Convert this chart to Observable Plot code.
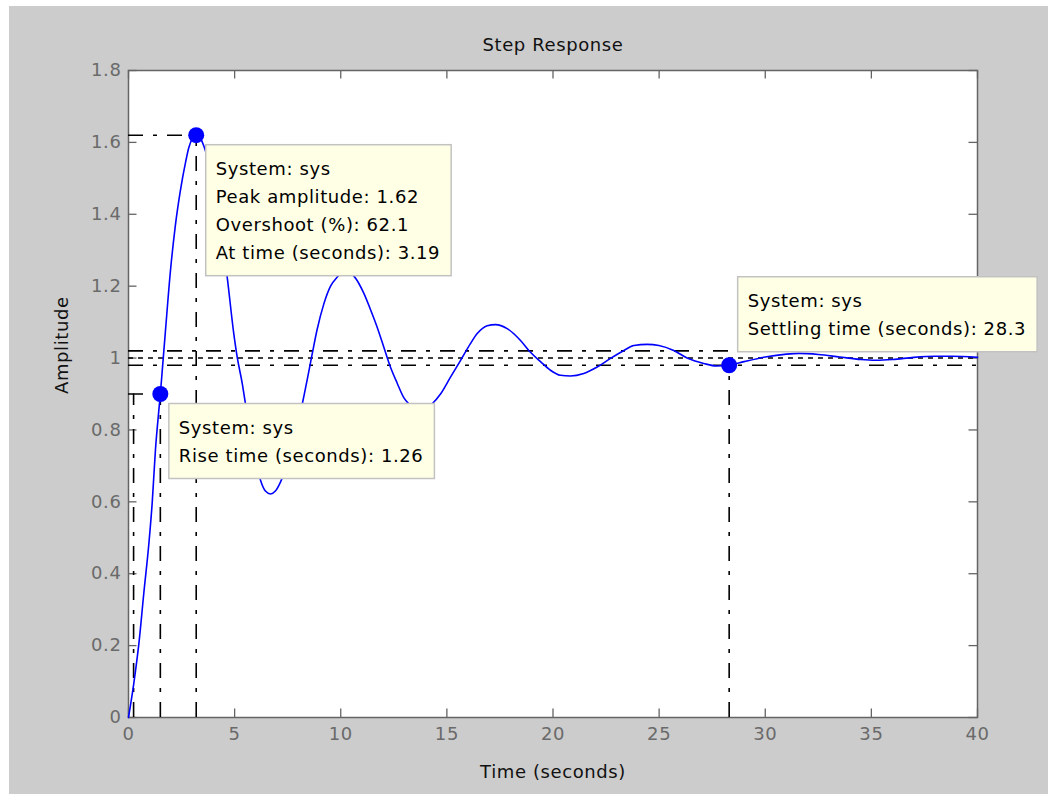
<!DOCTYPE html>
<html>
<head>
<meta charset="utf-8">
<script src="https://cdn.jsdelivr.net/npm/d3@7"></script>
<script src="https://cdn.jsdelivr.net/npm/@observablehq/plot@0.6"></script>
<style>
html, body { margin: 0; padding: 0; background: #ffffff; }
#fig { position: absolute; left: 9px; top: 6px; width: 1039px; height: 788px; background: #cccccc; overflow: hidden; }
</style>
</head>
<body>
<div id="fig"></div>
<script>
// ---- data ----
const time = [0, 0.25, 0.49, 0.72, 0.96, 1.12, 1.27, 1.43, 1.5, 1.59, 1.74, 1.98, 2.21, 2.45, 2.69, 2.84, 3.0, 3.19, 3.4, 3.55, 3.8, 4.1, 4.4, 4.65, 4.96, 5.12, 5.36, 5.51, 5.85, 6.22, 6.45, 6.69, 6.92, 7.16, 7.5, 7.85, 8.18, 8.42, 8.65, 8.89, 9.2, 9.52, 9.83, 10.05, 10.25, 10.45, 10.62, 11.09, 11.4, 11.72, 12.03, 12.34, 12.66, 12.97, 13.2, 13.5, 13.75, 14.0, 14.31, 14.7, 15.17, 15.64, 16.11, 16.43, 16.9, 17.29, 17.84, 18.47, 18.94, 19.41, 19.88, 20.35, 20.82, 21.45, 22.08, 22.71, 23.34, 23.81, 24.44, 24.99, 25.69, 26.32, 27.1, 27.7, 28.3, 29.0, 30.0, 31.0, 31.6, 32.5, 33.5, 34.5, 35.2, 36.0, 37.0, 38.0, 38.8, 40.0];
const amplitude = [0, 0.095, 0.206, 0.345, 0.484, 0.60, 0.745, 0.855, 0.90, 0.965, 1.075, 1.245, 1.37, 1.468, 1.545, 1.585, 1.61, 1.62, 1.61, 1.59, 1.54, 1.45, 1.335, 1.225, 1.068, 1.003, 0.929, 0.873, 0.76, 0.66, 0.63, 0.622, 0.63, 0.655, 0.71, 0.785, 0.87, 0.94, 1.01, 1.08, 1.15, 1.20, 1.225, 1.237, 1.24, 1.237, 1.228, 1.18, 1.135, 1.085, 1.03, 0.975, 0.93, 0.89, 0.873, 0.858, 0.853, 0.858, 0.873, 0.90, 0.947, 0.993, 1.04, 1.068, 1.09, 1.093, 1.082, 1.049, 1.016, 0.99, 0.966, 0.952, 0.95, 0.957, 0.975, 0.999, 1.021, 1.035, 1.038, 1.035, 1.021, 1.0, 0.985, 0.978, 0.98, 0.99, 1.003, 1.011, 1.013, 1.01, 1.003, 0.996, 0.994, 0.996, 1.002, 1.005, 1.005, 1.002];

const xTicks = [0, 5, 10, 15, 20, 25, 30, 35, 40];
const yTicks = [0, 0.2, 0.4, 0.6, 0.8, 1, 1.2, 1.4, 1.6, 1.8];

const riseTimes = [0.24, 1.5];      // 10% and 90% crossing times
const riseLevel = 0.9;
const peakTime = 3.19;
const peakAmplitude = 1.62;
const settleTime = 28.3;
const settleAmplitude = 0.98;
const finalValue = 1;
const settleBand = [0.98, 1.02];

const markerTime = [1.5, 3.19, 28.3];
const markerAmplitude = [0.9, 1.62, 0.98];

const titleText = "Step Response";
const xLabel = "Time (seconds)";
const yLabel = "Amplitude";
const peakTip = ["System: sys", "Peak amplitude: 1.62", "Overshoot (%): 62.1", "At time (seconds): 3.19"];
const riseTip = ["System: sys", "Rise time (seconds): 1.26"];
const settleTip = ["System: sys", "Settling time (seconds): 28.3"];

// ---- chart ----
const W = 1039, H = 788;
const mL = 119, mR = 71, mT = 64, mB = 77;
const plotW = W - mL - mR, plotH = H - mT - mB;
const tickLen = 8.5;
const axisGray = "#646464";
const labelGray = "#6a6a6a";
const dashDot = "15,10,4,10";

const chart = Plot.plot({
  width: W,
  height: H,
  marginLeft: mL, marginRight: mR, marginTop: mT, marginBottom: mB,
  style: "font-family: 'DejaVu Sans', sans-serif; font-size: 18px; letter-spacing: 0.6px; background: none; overflow: visible;",
  x: {domain: [0, 40]},
  y: {domain: [0, 1.8]},
  marks: [
    Plot.frame({fill: "white", stroke: axisGray, strokeWidth: 1.5}),
    // inward ticks on all four sides
    Plot.tickX(xTicks, {x: d => d, insetTop: plotH - tickLen, stroke: axisGray, strokeWidth: 1.3}),
    Plot.tickX(xTicks, {x: d => d, insetBottom: plotH - tickLen, stroke: axisGray, strokeWidth: 1.3}),
    Plot.tickY(yTicks, {y: d => d, insetRight: plotW - tickLen, stroke: axisGray, strokeWidth: 1.3}),
    Plot.tickY(yTicks, {y: d => d, insetLeft: plotW - tickLen, stroke: axisGray, strokeWidth: 1.3}),
    Plot.axisX(xTicks, {tickSize: 0, tickPadding: 10, label: null, fill: labelGray, fontSize: 18, tickFormat: d => String(d)}),
    Plot.axisY(yTicks, {tickSize: 0, tickPadding: 7, label: null, fill: labelGray, fontSize: 18, tickFormat: d => String(+d.toFixed(1))}),
    // settling band and final value
    Plot.ruleY(settleBand, {stroke: "black", strokeWidth: 1.6, strokeDasharray: dashDot}),
    Plot.ruleY([finalValue], {stroke: "black", strokeWidth: 1.6, strokeDasharray: "5,5"}),
    // rise-time lines
    Plot.ruleX(riseTimes, {y1: 0, y2: riseLevel, stroke: "black", strokeWidth: 1.6, strokeDasharray: dashDot}),
    Plot.ruleY([riseLevel], {x1: 0, x2: riseTimes[1], stroke: "black", strokeWidth: 1.6, strokeDasharray: dashDot}),
    // settling-time line
    Plot.ruleX([settleTime], {y1: 0, y2: settleAmplitude, stroke: "black", strokeWidth: 1.6, strokeDasharray: dashDot}),
    // response curve
    Plot.line(amplitude, {x: time, y: amplitude, stroke: "#0000ff", strokeWidth: 1.6, curve: "monotone-x"}),
    Plot.dot([0, 2], {x: i => markerTime[i], y: i => markerAmplitude[i], r: 8, fill: "#0000ff", stroke: "none", ariaLabel: "markers"}),
    // peak lines and marker (drawn above the rise datatip)
    Plot.ruleX([peakTime], {y1: 0, y2: peakAmplitude, stroke: "black", strokeWidth: 1.6, strokeDasharray: dashDot, ariaLabel: "peak-v"}),
    Plot.ruleY([peakAmplitude], {x1: 0, x2: peakTime, stroke: "black", strokeWidth: 1.6, strokeDasharray: dashDot, ariaLabel: "peak-h"}),
    Plot.dot([1], {x: i => markerTime[i], y: i => markerAmplitude[i], r: 8, fill: "#0000ff", stroke: "none", ariaLabel: "peak-dot"}),
    // title and axis labels
    Plot.text([titleText], {text: d => d, frameAnchor: "top", lineAnchor: "middle", dy: -25, fontSize: 18, fill: "#111111"}),
    Plot.text([xLabel], {text: d => d, frameAnchor: "bottom", lineAnchor: "middle", dy: 55, fontSize: 18, fill: "#111111"}),
    Plot.text([yLabel], {text: d => d, frameAnchor: "left", lineAnchor: "middle", dx: -66, rotate: -90, fontSize: 18, fill: "#111111"})
  ]
});

document.getElementById("fig").appendChild(chart);

// ---- datatips positioned through the plot's scales ----
const svg = d3.select(chart);
const xs = chart.scale("x"), ys = chart.scale("y");
const sx = v => xs.range[0] + (v - xs.domain[0]) / (xs.domain[1] - xs.domain[0]) * (xs.range[1] - xs.range[0]);
const sy = v => ys.range[0] + (v - ys.domain[0]) / (ys.domain[1] - ys.domain[0]) * (ys.range[1] - ys.range[0]);

function addTip(lines, t, a, dx, above) {
  const px = sx(t), py = sy(a);
  const h = 30 + (lines.length - 1) * 28 + 17;
  const left = px + dx;
  const top = above ? py - 13 - h : py + 10;
  const g = svg.append("g").attr("aria-label", "datatip");
  const rect = g.append("rect");
  let maxW = 0;
  lines.forEach((line, i) => {
    const tx = g.append("text")
      .attr("x", left + 10)
      .attr("y", top + 30 + i * 28)
      .attr("text-anchor", "start")
      .attr("fill", "#000000")
      .attr("font-size", 18)
      .text(line);
    maxW = Math.max(maxW, tx.node().getComputedTextLength());
  });
  rect.attr("x", left).attr("y", top)
    .attr("width", maxW + 21).attr("height", h)
    .attr("fill", "#ffffe5").attr("stroke", "#c2c2c2").attr("stroke-width", 1.5);
  return g;
}

addTip(settleTip, markerTime[2], markerAmplitude[2], 9, true);
addTip(riseTip, markerTime[0], markerAmplitude[0], 9, false);
// bring peak lines and marker above the rise datatip
["peak-v", "peak-h", "peak-dot"].forEach(name => {
  const node = chart.querySelector(`g[aria-label="${name}"]`);
  if (node) chart.appendChild(node);
});
addTip(peakTip, markerTime[1], markerAmplitude[1], 10, false);
</script>
</body>
</html>
